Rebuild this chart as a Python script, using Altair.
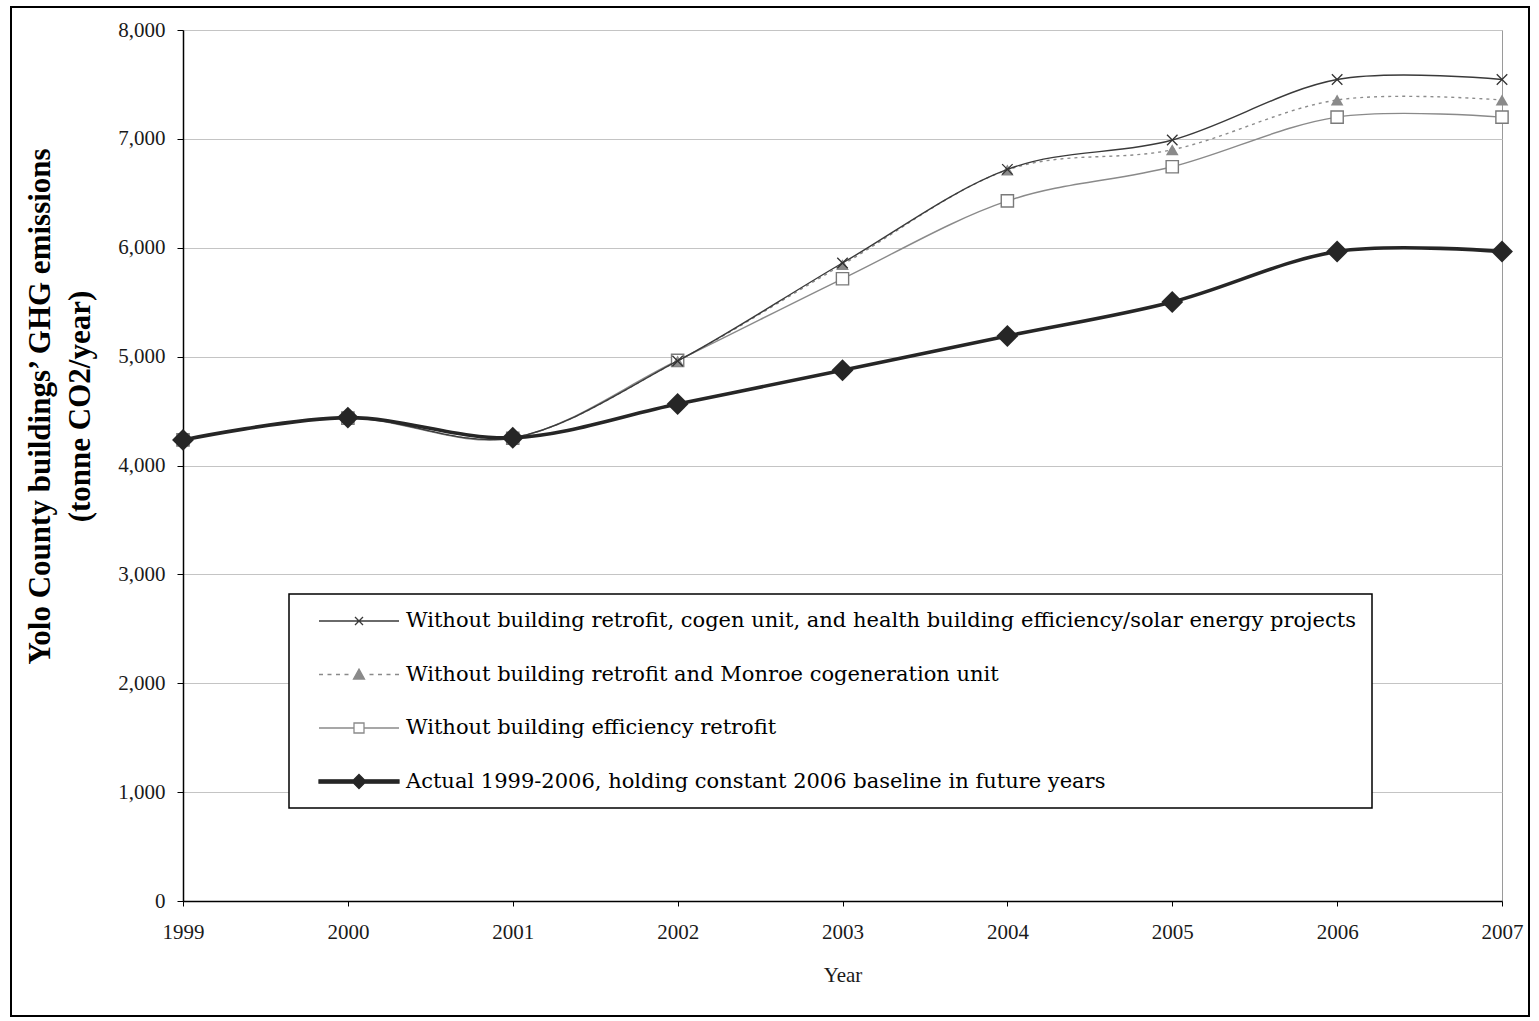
import altair as alt
import pandas as pd

# Yolo County buildings' greenhouse-gas emissions, 1999-2007 (tonne CO2/year)
years = [1999, 2000, 2001, 2002, 2003, 2004, 2005, 2006, 2007]

s_all = "Without building retrofit, cogen unit, and health building efficiency/solar energy projects"
s_cogen = "Without building retrofit and Monroe cogeneration unit"
s_retro = "Without building efficiency retrofit"
s_actual = "Actual 1999-2006, holding constant 2006 baseline in future years"

series_names = [s_all, s_cogen, s_retro, s_actual]

no_projects = [4235, 4440, 4255, 4960, 5860, 6720, 6990, 7545, 7545]
no_retrofit_cogen = [4235, 4440, 4255, 4960, 5845, 6715, 6900, 7357, 7357]
no_retrofit = [4235, 4435, 4250, 4965, 5715, 6430, 6744, 7200, 7200]
actual = [4235, 4440, 4255, 4565, 4875, 5190, 5502, 5965, 5965]

y_ticks = [0, 1000, 2000, 3000, 4000, 5000, 6000, 7000, 8000]

rows = []
for name, vals in zip(series_names, [no_projects, no_retrofit_cogen, no_retrofit, actual]):
    for yr, v in zip(years, vals):
        rows.append({"year": yr, "emissions": v, "series": name})
df = pd.DataFrame(rows)

SERIF = "Liberation Serif"

x_enc = alt.X(
    "year:Q",
    scale=alt.Scale(domain=[years[0], years[-1]], nice=False, zero=False),
    axis=alt.Axis(
        values=years, format="d", grid=False, title="Year", labelFlush=False,
        labelFont=SERIF, labelFontSize=21, labelColor="#1a1a1a", labelPadding=15,
        tickSize=5, tickColor="#000000", domainColor="#000000", domainWidth=1.5,
        titleFont=SERIF, titleFontSize=21, titleFontWeight="normal", titleColor="#1a1a1a",
        titleY=74, titleBaseline="middle",
    ),
)
y_enc = alt.Y(
    "emissions:Q",
    scale=alt.Scale(domain=[0, 8000], nice=False),
    axis=alt.Axis(
        values=y_ticks, format=",d", grid=True, gridColor="#c4c4c4", gridWidth=1,
        title=["Yolo County buildings\u2019 GHG emissions", "(tonne CO2/year)"],
        labelFont=SERIF, labelFontSize=21, labelColor="#1a1a1a", labelPadding=12,
        tickSize=6, tickColor="#000000", domainColor="#000000", domainWidth=1.5,
        titleFont=SERIF, titleFontSize=31, titleFontWeight="bold", titleColor="#000000",
        titleLineHeight=40, titleAngle=270, titleX=-143, titleY=376,
        titleAlign="center", titleBaseline="middle",
    ),
)

base = alt.Chart(df)


def line_layer(name, color, width, dash=None):
    kw = dict(color=color, strokeWidth=width, interpolate="cardinal", tension=0)
    if dash:
        kw["strokeDash"] = dash
    return base.transform_filter(alt.datum.series == name).mark_line(**kw).encode(x=x_enc, y=y_enc)


def point_layer(name, **mark_kw):
    return base.transform_filter(alt.datum.series == name).mark_point(opacity=1, **mark_kw).encode(x=x_enc, y=y_enc)


x_path = "M-1,-1L1,1M-1,1L1,-1"

layers = [
    line_layer(s_retro, "#8a8a8a", 1.4),
    point_layer(s_retro, shape="square", size=150, fill="#ffffff", stroke="#7a7a7a", strokeWidth=1.4),
    line_layer(s_cogen, "#8c8c8c", 1.4, dash=[3, 4]),
    point_layer(s_cogen, shape="triangle-up", size=160, filled=True, color="#8a8a8a"),
    line_layer(s_all, "#3a3a3a", 1.4),
    point_layer(s_all, shape=x_path, size=110, stroke="#333333", strokeWidth=1.3),
    line_layer(s_actual, "#262626", 3.6),
    point_layer(s_actual, shape="diamond", size=480, filled=True, color="#262626"),
]

# Legend entries: each symbol path combines the series' line sample and its marker
dash_line = "M-4,0H-3.6M-3.15,0H-2.75M-2.3,0H-1.9M-1.45,0H-1.05M1.05,0H1.45M1.9,0H2.3M2.75,0H3.15M3.6,0H4"
legend_paths = [
    "M-4,0H4M-0.4,-0.4L0.4,0.4M-0.4,0.4L0.4,-0.4",
    dash_line + "M0,-0.55L0.55,0.45H-0.55Z",
    "M-4,0H-0.5M0.5,0H4M-0.5,-0.5H0.5V0.5H-0.5Z",
    "M-4,-0.17H4V0.17H-4ZM0,-0.7L0.7,0L0,0.7L-0.7,0Z",
]
legend_fill = ["transparent", "#8a8a8a", "#ffffff", "#262626"]
legend_stroke = ["#3a3a3a", "#8a8a8a", "#8a8a8a", "#262626"]

legend_def = alt.Legend(
    title=None, orient="none", legendX=106, legendY=564,
    symbolSize=400, symbolOffset=43, labelOffset=36,
    labelFont="DejaVu Serif", labelFontSize=21, labelColor="#000000", labelLimit=0,
    rowPadding=32.5, padding=16, strokeColor="#000000", fillColor="#ffffff",
)

legend_layer = base.transform_filter("false").mark_point(opacity=1, filled=True).encode(
    x=x_enc,
    y=y_enc,
    shape=alt.Shape("series:N", scale=alt.Scale(domain=series_names, range=legend_paths), legend=legend_def),
    fill=alt.Fill("series:N", scale=alt.Scale(domain=series_names, range=legend_fill), legend=legend_def),
    stroke=alt.Stroke("series:N", scale=alt.Scale(domain=series_names, range=legend_stroke), legend=legend_def),
)

# Outer frame around the whole figure
frame = alt.Chart(pd.DataFrame({"k": [0]})).mark_rect(
    filled=False, stroke="#000000", strokeWidth=2
).encode(
    x=alt.value(-172), x2=alt.value(1346), y=alt.value(-23), y2=alt.value(986)
)

chart = alt.layer(frame, *layers, legend_layer).properties(
    width=1319,
    height=871,
    autosize=alt.AutoSizeParams(type="none"),
    padding={"left": 183, "top": 30, "right": 37, "bottom": 120},
    background="#ffffff",
).configure_view(
    stroke="#9a9a9a", strokeWidth=1
).configure_legend(
    symbolStrokeWidth=1.3, strokeWidth=1.5
)

chart.save("out.html", embed_options={"renderer": "svg", "actions": False})
